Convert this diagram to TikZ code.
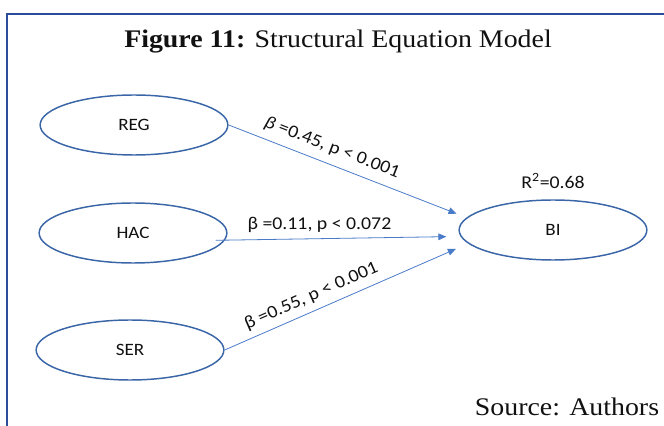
\documentclass[tikz,border=0pt]{standalone}
\usepackage{fontspec}
\setmainfont{Liberation Serif}
\newfontfamily\calib{Carlito}
\usepackage{xcolor}
\usepackage{tikz}
\usetikzlibrary{arrows.meta,shapes.geometric}
\definecolor{frameblue}{HTML}{2B4C9B}
\definecolor{ringblue}{HTML}{3A66A8}
\definecolor{pathblue}{HTML}{4A7BC8}
\definecolor{ink}{HTML}{111111}
\tikzset{
  latent/.style={ellipse,draw=ringblue,line width=1.1pt,fill=white,minimum width=128pt,minimum height=45pt,inner sep=0pt,font=\calib\fontsize{13}{15}\selectfont,text=ink,xscale=1.1},
  effect/.style={-{Triangle[length=6pt,width=5pt]},line width=0.6pt,color=pathblue},
  coef/.style={font=\calib\fontsize{13.5}{16}\selectfont,text=ink,inner sep=2pt,xscale=1.1},
  captext/.style={font=\fontsize{19}{22}\selectfont,text=ink,inner sep=0pt,xscale=1.1},
}

\begin{document}
\begin{tikzpicture}[x=0.75pt,y=0.75pt]
    \useasboundingbox (0,0) rectangle (664,425);
    \clip (0,0) rectangle (664,425);
    \draw[frameblue,line width=2.2pt] (7,-10) -- (7,411) -- (690,411);
    \node[captext] (title) at (338,383) {\textbf{Figure 11:} Structural Equation Model};
    \node[captext] (source) at (567,18) {Source: Authors};
    \foreach \n/\x/\y in {REG/134/300, HAC/133/192, SER/130/75} {
      \node[latent] (\n) at (\x,\y) {\n};
    }
    \node[latent] (BI) at (553,195) {BI};
    \node[coef] (r2) at (553,244) {R\textsuperscript{2}=0.68};
    \draw[effect,shorten >=8pt] (REG.east) -- (BI.171)
      node[coef,pos=0.41,sloped,above=4pt] (lreg) {\textit{β} =0.45, p < 0.001};
    \draw[effect] ([xshift=-7pt]HAC.-5) -- ([xshift=-9pt,yshift=-5pt]BI.west)
      node[coef,pos=0.45,above=2pt] (lhac) {β =0.11, p < 0.072};
    \draw[effect,shorten >=10pt] (SER.east) -- (BI.190)
      node[coef,pos=0.38,sloped,above=3pt] (lser) {β =0.55, p < 0.001};
  \end{tikzpicture}
\end{document}
